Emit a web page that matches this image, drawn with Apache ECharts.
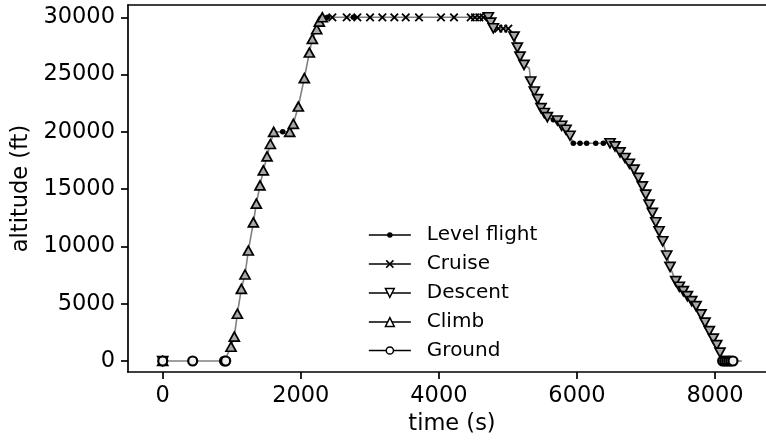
<!DOCTYPE html>
<html><head><meta charset="utf-8">
<script src="https://cdn.jsdelivr.net/npm/echarts@6/dist/echarts.min.js"></script>
<style>html,body{margin:0;padding:0;background:#fff}#c{width:766px;height:441px}</style>
</head><body><div id="c"></div>
<script>
// ---- data (time s, altitude ft) ----
const groundT   = [0, 434, 895, 912, 8110, 8140, 8170, 8200, 8230, 8260];
const groundAlt = [0, 0, 0, 0, 0, 0, 0, 0, 0, 0];

const climbT   = [0, 989, 1037, 1081, 1139, 1192, 1240, 1313, 1356, 1409, 1457, 1511, 1559, 1607,
                  1839, 1892, 1964, 2051, 2124, 2167, 2230, 2268, 2312];
const climbAlt = [0, 1250, 2125, 4130, 6300, 7550, 9640, 12100, 13740, 15330, 16640, 17860, 18940, 20000,
                  20000, 20700, 22210, 24690, 26920, 28110, 28960, 29620, 30000];

const levelT   = [0, 1738, 2385, 2761, 5658, 5947, 6044, 6141, 6272, 6382];
const levelAlt = [0, 20000, 30000, 30000, 21050, 19000, 19000, 19000, 19000, 19000];

const cruiseT   = [0, 2457, 2665, 2819, 3003, 3181, 3355, 3520, 3712, 4030, 4219, 4461, 4523, 4586, 4644,
                   4861, 4933, 5006];
const cruiseAlt = [0, 30000, 30000, 30000, 30000, 30000, 30000, 30000, 30000, 30000, 30000, 30000, 30000, 30000, 30000,
                   29000, 29000, 29000];

const descentT   = [0, 4716, 4751, 4789, 5088, 5136, 5175, 5233, 5330, 5382, 5431, 5479, 5527, 5571,
                    5716, 5779, 5842, 5899, 6479, 6551, 6624, 6696, 6759, 6827, 6889, 6947, 6996,
                    7044, 7092, 7141, 7189, 7242, 7300, 7348, 7431, 7483, 7541, 7599, 7662, 7725,
                    7797, 7855, 7917, 7975, 8024, 8072];
const descentAlt = [0, 30000, 29530, 29040, 28310, 27350, 26570, 25850, 24390, 23520, 22860, 22070, 21640, 21290,
                    20990, 20530, 20180, 19660, 19000, 18730, 18210, 17720, 17220, 16700, 15980, 15240, 14520,
                    13650, 12930, 12110, 11320, 10450, 9210, 8220, 6970, 6480, 6100, 5660, 5230, 4790,
                    4070, 3350, 2610, 1950, 1390, 730];

// trace points with no marker
const otherT   = [5310, 8386];
const otherAlt = [25550, 0];

const xTicks = [0, 2000, 4000, 6000, 8000];
const yTicks = [0, 5000, 10000, 15000, 20000, 25000, 30000];

// ---- build ----
const zip = (t, a) => t.map((v, i) => [v, a[i]]);
const trace = [].concat(zip(groundT, groundAlt), zip(climbT, climbAlt), zip(levelT, levelAlt),
  zip(cruiseT, cruiseAlt), zip(descentT, descentAlt), zip(otherT, otherAlt))
  .sort((p, q) => p[0] - q[0]);

const FONT = 'DejaVu Sans';
const XPATH = 'path://M0,0L10,10M0,10L10,0';
const X_MIN = -503, X_MAX = 8738, Y_MIN = -958, Y_MAX = 31071;

function markerSeries(name, data, symbol, size, rotate, fill, bw) {
  return {
    name, type: 'line', data, symbol, symbolSize: size, symbolRotate: rotate,
    showSymbol: true, showAllSymbol: true, z: 3,
    lineStyle: { width: 0, opacity: 0 },
    itemStyle: { color: fill, borderColor: '#000', borderWidth: bw, opacity: 1 },
    emphasis: { disabled: true }, silent: true
  };
}

const legendSpec = [
  { name: 'Level flight', h: 5, fill: '#000' },
  { name: 'Cruise', h: 9, fill: '#000' },
  { name: 'Descent', h: 11, fill: '#fff' },
  { name: 'Climb', h: 11, fill: '#fff' },
  { name: 'Ground', h: 9, fill: '#fff' }
];
const rowY = [235, 264, 293, 322, 350.5];

const legends = legendSpec.map((s, i) => ({
  data: [s.name], orient: 'vertical', left: 368, top: rowY[i] - 10, padding: 0,
  itemWidth: 42, itemHeight: s.h, selectedMode: false,
  itemStyle: { color: s.fill, borderColor: '#000', borderWidth: 1.5 },
  lineStyle: { color: '#000', width: 1.7, opacity: 1, type: 'solid' },
  textStyle: { fontFamily: FONT, fontSize: 20, color: '#000', padding: [0, 0, 0, 11] }
}));

const axisLineStyle = { color: '#000', width: 1.7 };
const chart = echarts.init(document.getElementById('c'), null, { renderer: 'canvas' });
chart.setOption({
  animation: false,
  backgroundColor: '#fff',
  grid: { left: 128, top: 5, right: 0, bottom: 68, show: false },
  legend: legends,
  xAxis: [{
    type: 'value', min: X_MIN, max: X_MAX,
    name: 'time (s)', nameLocation: 'middle', nameGap: 41,
    nameTextStyle: { fontFamily: FONT, fontSize: 22.5, color: '#000', padding: [0, 0, 0, 10] },
    axisLine: { show: true, onZero: false, lineStyle: axisLineStyle },
    axisTick: { show: true, length: 7, lineStyle: axisLineStyle, customValues: xTicks },
    axisLabel: { fontFamily: FONT, fontSize: 22.5, color: '#000', margin: 13, customValues: xTicks, formatter: v => String(v) },
    splitLine: { show: false }
  }, {
    type: 'value', min: X_MIN, max: X_MAX, position: 'top',
    axisLine: { show: true, onZero: false, lineStyle: axisLineStyle },
    axisTick: { show: false }, axisLabel: { show: false }, splitLine: { show: false }
  }],
  yAxis: {
    type: 'value', min: Y_MIN, max: Y_MAX,
    name: 'altitude (ft)', nameLocation: 'middle', nameGap: 91, nameRotate: 90,
    nameTextStyle: { fontFamily: FONT, fontSize: 22.5, color: '#000' },
    axisLine: { show: true, onZero: false, lineStyle: axisLineStyle },
    axisTick: { show: true, length: 7, lineStyle: axisLineStyle, customValues: yTicks },
    axisLabel: { fontFamily: FONT, fontSize: 22.5, color: '#000', margin: 13, customValues: yTicks, formatter: v => String(v) },
    splitLine: { show: false }
  },
  series: [
    { name: 'trace', type: 'line', data: trace, showSymbol: false, z: 2, silent: true,
      lineStyle: { color: '#808080', width: 1.6 }, emphasis: { disabled: true } },
    markerSeries('Level flight', zip(levelT, levelAlt), 'circle', 5.5, 0, '#000', 0),
    markerSeries('Cruise', zip(cruiseT, cruiseAlt), XPATH, 7.5, 0, '#000', 1.8),
    markerSeries('Descent', zip(descentT, descentAlt), 'triangle', [10, 9], 180, '#a8a8a8', 1.7),
    markerSeries('Climb', zip(climbT, climbAlt), 'triangle', [10, 9], 0, '#a8a8a8', 1.7),
    markerSeries('Ground', zip(groundT, groundAlt), 'circle', 9, 0, '#f0f0f0', 2.2)
  ]
});
</script></body></html>
